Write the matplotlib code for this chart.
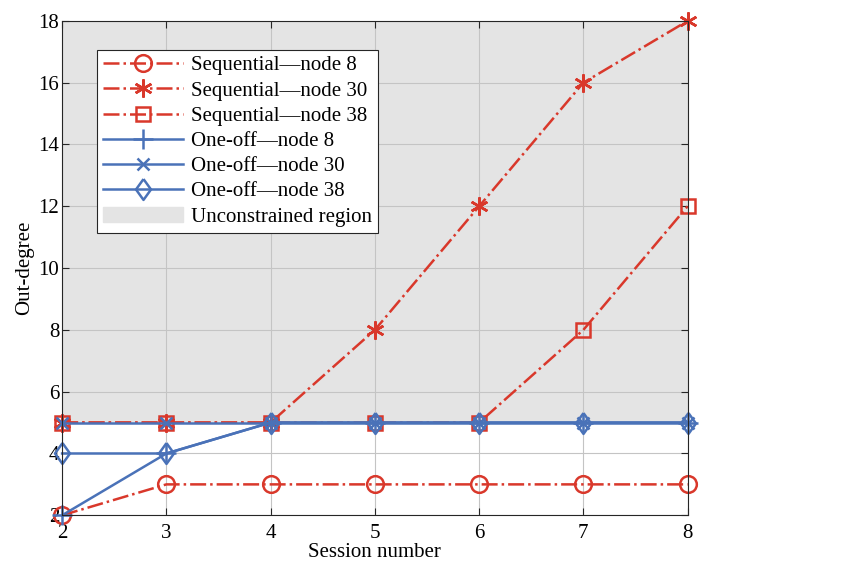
import numpy as np
import matplotlib.pyplot as plt
from matplotlib.patches import Patch

# DATA -----------------------------------------------------------------------+
sessions = [2, 3, 4, 5, 6, 7, 8]
seq_node8 = [2, 3, 3, 3, 3, 3, 3]
seq_node30 = [5, 5, 5, 8, 12, 16, 18]
seq_node38 = [5, 5, 5, 5, 5, 8, 12]
one_node8 = [2, 4, 5, 5, 5, 5, 5]
one_node30 = [5, 5, 5, 5, 5, 5, 5]
one_node38 = [4, 4, 5, 5, 5, 5, 5]
region_low, region_high = 5, 18

red = '#d9382b'
blue = '#4a72b8'
fs = 15

plt.rcParams['font.family'] = ['Liberation Serif', 'DejaVu Serif']
plt.rcParams['font.size'] = fs

fig = plt.figure(figsize=(8.51, 5.65), dpi=100)
ax = fig.add_axes([0.073, 0.088, 0.735, 0.875])

# Unconstrained region
ax.axhspan(region_low, region_high, color='#e4e4e4', zorder=0.3, lw=0)

diamond = [(0, 1), (0.72, 0), (0, -1), (-0.72, 0), (0, 1)]
lw = 1.8
ax.plot(sessions, seq_node8, '-.', color=red, lw=lw, marker='o', ms=12,
        mfc='none', mew=1.8)
ax.plot(sessions, seq_node30, '-.', color=red, lw=lw, marker=(6, 2, 0), ms=13,
        mew=1.8)
ax.plot(sessions, seq_node38, '-.', color=red, lw=lw, marker='s', ms=10,
        mfc='none', mew=1.8)
ax.plot(sessions, one_node8, '-', color=blue, lw=lw, marker='+', ms=14, mew=1.8)
ax.plot(sessions, one_node30, '-', color=blue, lw=lw, marker='x', ms=9, mew=1.8)
ax.plot(sessions, one_node38, '-', color=blue, lw=lw, marker=diamond, ms=15,
        mfc='none', mew=1.8)
for ln in ax.lines:
    ln.set_clip_on(False)

ax.set_xlim(2, 8)
ax.set_ylim(2, 18)
ax.set_xticks(range(2, 9))
ax.set_yticks(range(2, 19, 2))
ax.set_axisbelow(True)
ax.grid(True, color='#c4c4c4', lw=0.8)
ax.tick_params(direction='in', top=True, right=True, length=5, width=0.8,
               colors='#262626', labelcolor='black', labelsize=fs, pad=2)
ax.tick_params(axis='x', pad=6)
for sp in ax.spines.values():
    sp.set_color('#262626')
    sp.set_linewidth(0.8)
ax.set_xlabel('Session number', labelpad=0)
ax.set_ylabel('Out-degree', labelpad=3)

labels = ['Sequential\u2014node 8', 'Sequential\u2014node 30',
          'Sequential\u2014node 38', 'One-off\u2014node 8',
          'One-off\u2014node 30', 'One-off\u2014node 38']
handles = list(ax.lines) + [Patch(color='#e4e4e4')]
labels.append('Unconstrained region')
leg = ax.legend(handles, labels, loc='upper left',
                bbox_to_anchor=(0.056, 0.942), fancybox=False, framealpha=1,
                edgecolor='#262626', handlelength=3.8, handletextpad=0.4,
                labelspacing=0.27, borderpad=0.3, borderaxespad=0,
                fontsize=fs)
leg.get_frame().set_linewidth(0.8)

plt.savefig('out.png', dpi=100)
